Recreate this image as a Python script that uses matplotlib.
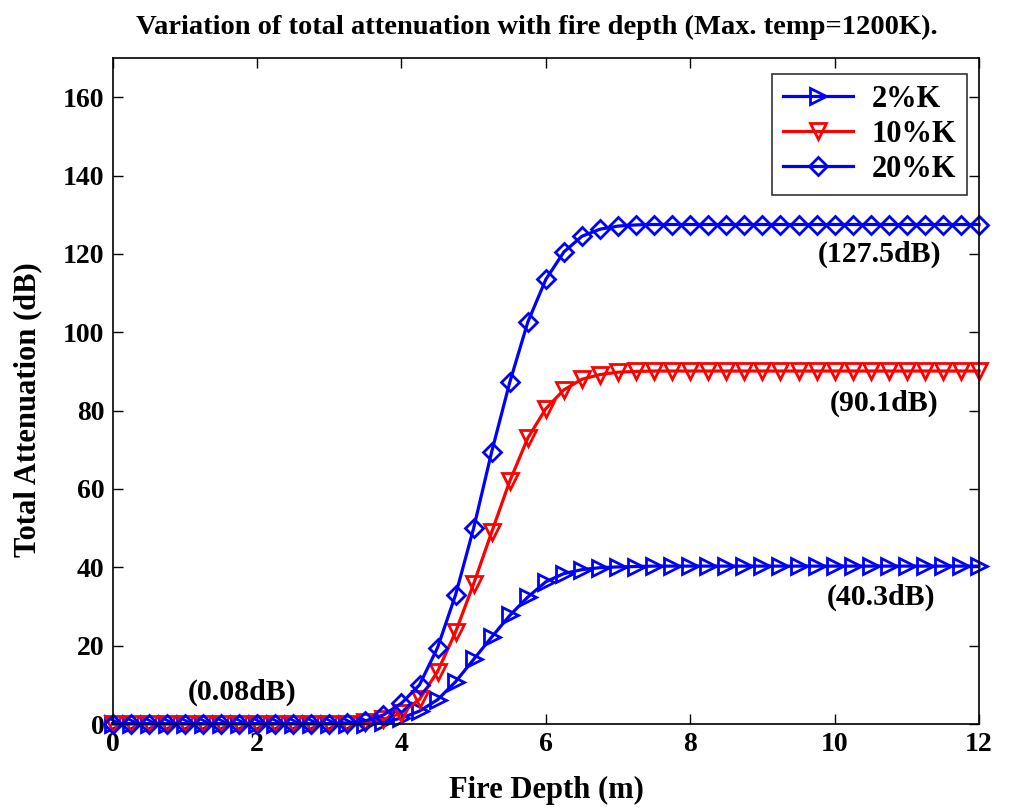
import numpy as np
import matplotlib
matplotlib.use("Agg")
import matplotlib.pyplot as plt

plt.rcParams['font.family'] = ['Liberation Serif', 'DejaVu Serif']
plt.rcParams['font.weight'] = 'bold'

depth = [i * 0.25 for i in range(49)]

att_2K = ([0.08] * 15 +
          [0.5, 1.5, 3.3, 6.2, 10.8, 16.5, 22.2, 27.7, 32.4, 36.3, 38.4, 39.4,
           39.9, 40.1, 40.2] + [40.3] * 19)
att_10K = ([0.08] * 14 +
           [0.4, 1.2, 2.8, 6.3, 13.4, 23.5, 35.8, 49.0, 62.0, 73.0, 80.5, 85.3,
            88.0, 89.2, 89.8, 90.0] + [90.1] * 19)
att_20K = ([0.08] * 13 +
           [0.3, 0.8, 2.3, 5.3, 10.0, 19.5, 33.0, 50.0, 69.5, 87.2, 102.6, 113.5,
            120.5, 124.5, 126.3, 127.1, 127.4] + [127.5] * 19)

labels = ['2%K', '10%K', '20%K']
annotations = ['(127.5dB)', '(90.1dB)', '(40.3dB)', '(0.08dB)']
ann_pos = [(10.62, 119.8), (10.69, 81.8), (10.65, 32.4), (1.79, 8.2)]

W, H = 1030, 808
fig = plt.figure(figsize=(W / 100, H / 100), dpi=100)
ax = fig.add_axes([112.7 / W, 1 - 724 / H, (979 - 112.7) / W, (724 - 58) / H])

lw = 2.3
mew = 2.0
ax.plot(depth, att_2K, color='#0000ff', marker='>', markersize=11.5, markerfacecolor='none',
        markeredgewidth=mew, linewidth=lw, label=labels[0], clip_on=False)
ax.plot(depth, att_10K, color='#ff0000', marker='v', markersize=11.5, markerfacecolor='none',
        markeredgewidth=mew, linewidth=lw, label=labels[1], clip_on=False)
ax.plot(depth, att_20K, color='#0000ff', marker='D', markersize=9.5, markerfacecolor='none',
        markeredgewidth=mew, linewidth=lw, label=labels[2], clip_on=False)

ax.set_xlim(0, 12)
ax.set_ylim(0, 170)
ax.set_xticks(range(0, 13, 2))
ax.set_yticks(range(0, 161, 20))
ax.tick_params(direction='in', length=7, width=1, top=True, right=True,
               labelsize=20, pad=6)
for lab in ax.get_xticklabels() + ax.get_yticklabels():
    lab.set_fontweight('bold')
for sp in ax.spines.values():
    sp.set_linewidth(1.2)

fig.text(546 / W, 1 - 790 / H, 'Fire Depth (m)', fontsize=22, fontweight='bold',
         ha='center', va='center')
fig.text(28 / W, 1 - 410 / H, 'Total Attenuation (dB)', fontsize=22, fontweight='bold',
         ha='center', va='center', rotation=90)
fig.text(537 / W, 1 - 27 / H,
         'Variation of total attenuation with fire depth (Max. temp=1200K).',
         fontsize=20.5, fontweight='bold', ha='center', va='center')

for txt, (xx, yy) in zip(annotations, ann_pos):
    ax.text(xx, yy, txt, fontsize=21.5, fontweight='bold', ha='center', va='center')

leg = ax.legend(loc='upper right', bbox_to_anchor=(0.986, 0.976), fontsize=22,
                frameon=True, fancybox=False, edgecolor='black', handlelength=2.3,
                borderpad=0.35, labelspacing=0.2, handletextpad=0.6, borderaxespad=0)
leg.get_frame().set_linewidth(1.2)
for t in leg.get_texts():
    t.set_fontweight('bold')

fig.savefig('out.png', dpi=100)
